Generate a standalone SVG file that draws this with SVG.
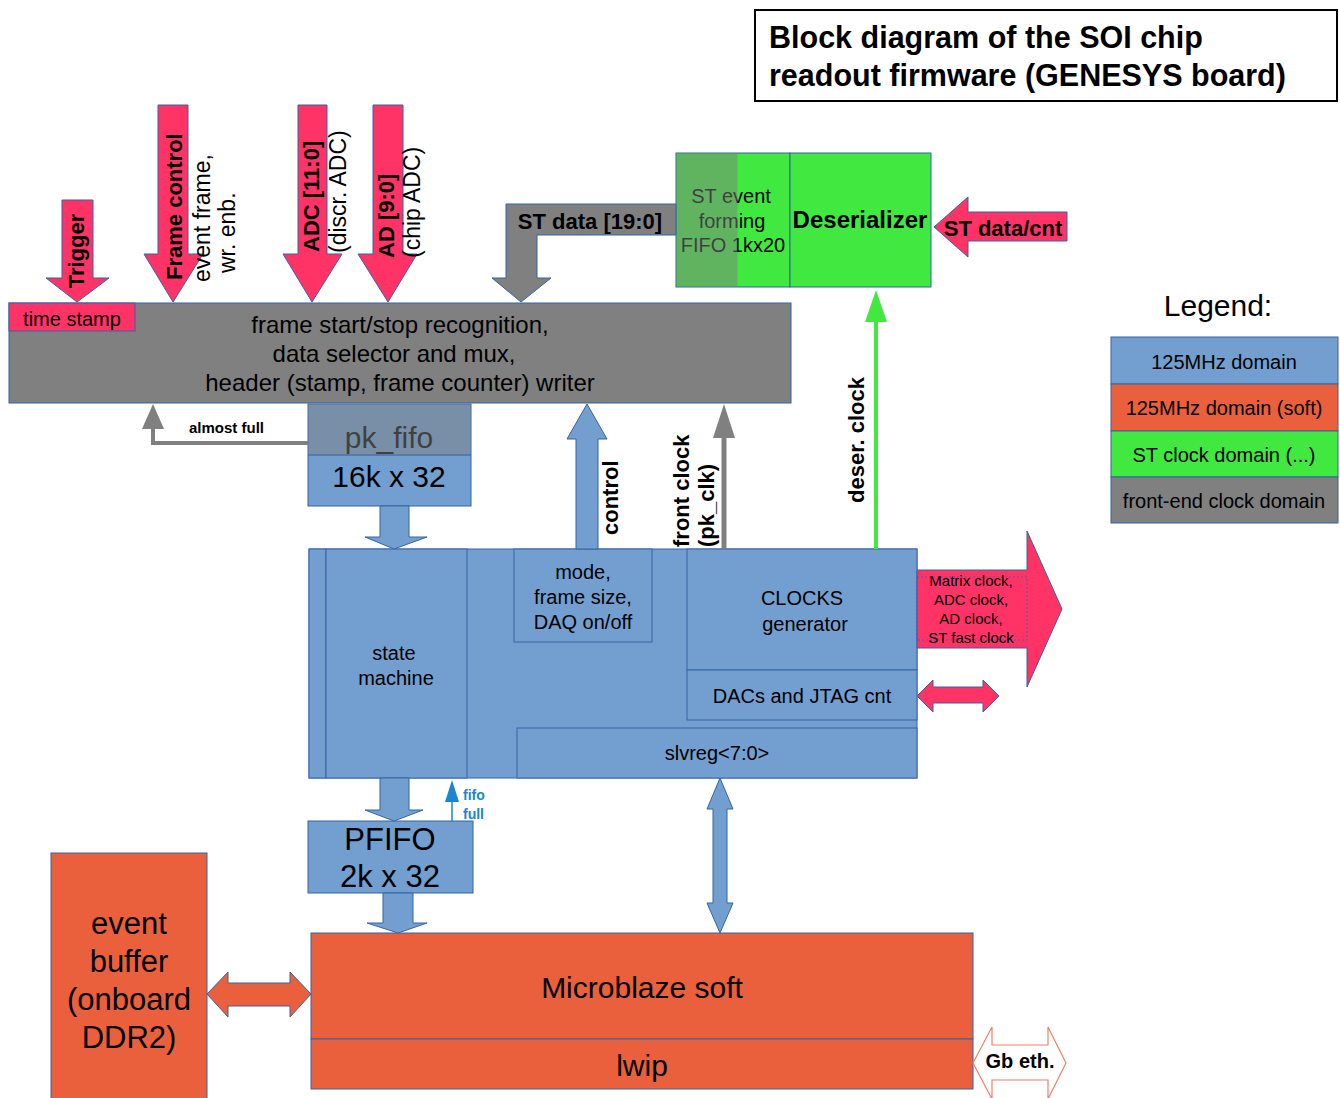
<svg xmlns="http://www.w3.org/2000/svg" width="1340" height="1098" viewBox="0 0 1340 1098">
<style>
text{font-family:"Liberation Sans",Arial,sans-serif;fill:#000}
.b{font-weight:bold}
.blue{fill:#729fcf;stroke:#3465a4;stroke-width:1}
.org{fill:#eb603c;stroke:#3465a4;stroke-width:1}
.pink{fill:#ff3366;stroke:#3465a4;stroke-width:1}
.grn{fill:#40e840;stroke:#3465a4;stroke-width:1}
.gry{fill:#808080;stroke:#3465a4;stroke-width:1}
.ov{fill:#7f7f7f;fill-opacity:0.5;stroke:none}
.m{text-anchor:middle}
.s20{font-size:20px}
.s22{font-size:22px}
.s23{font-size:23px}
.s24{font-size:24px}
.s30{font-size:30px}
.s31{font-size:31px}
</style>
<rect width="1340" height="1098" fill="#fff"/>

<g id="title">
<rect x="755" y="10" width="582" height="91" fill="#fff" stroke="#000" stroke-width="2"/>
<text x="769" y="48" class="b" font-size="30.5">Block diagram of the SOI chip</text>
<text x="769" y="86" class="b" font-size="30.5">readout firmware (GENESYS board)</text>
</g>

<g id="frame-recognition">
<rect x="9" y="303" width="782" height="100" class="gry"/>
<text x="400" y="333" class="m s24">frame start/stop recognition,</text>
<text x="394" y="362" class="m s24">data selector and mux,</text>
<text x="400" y="391" class="m s24">header (stamp, frame counter) writer</text>
</g>
<g id="time-stamp">
<rect x="9" y="303" width="126" height="28" class="pink"/>
<text x="72" y="326" class="m s20">time stamp</text>
</g>

<g id="st-fifo">
<rect x="676" y="153" width="114" height="134" class="grn"/>
<text x="731" y="203" class="m s20">ST event</text>
<text x="732" y="228" class="m s20">forming</text>
<text x="733" y="252" class="m s20">FIFO 1kx20</text>
<rect x="676.5" y="153.5" width="61" height="133" class="ov"/>
</g>
<g id="deserializer">
<rect x="790" y="153" width="141" height="134" class="grn"/>
<text x="860" y="228" class="m b s24">Deserializer</text>
</g>

<g id="pk-fifo">
<rect x="308" y="404" width="163" height="102" class="blue"/>
<text x="389" y="448" class="m s30">pk_fifo</text>
<text x="389" y="487" class="m s30">16k x 32</text>
<rect x="308.5" y="404.5" width="162" height="51" class="ov"/>
<line x1="308" y1="455" x2="471" y2="455" stroke="#3465a4" stroke-width="1"/>
</g>

<g id="control-block">
<rect x="309" y="549" width="608" height="229" class="blue"/>
<rect x="309" y="549" width="17" height="229" class="blue"/>
</g>
<g id="state-machine">
<rect x="326" y="549" width="141" height="229" class="blue"/>
<text x="394" y="660" class="m s20">state</text>
<text x="396" y="685" class="m s20">machine</text>
</g>
<g id="mode">
<rect x="514" y="549" width="138" height="93" class="blue"/>
<text x="583" y="579" class="m s20">mode,</text>
<text x="583" y="604" class="m s20">frame size,</text>
<text x="583" y="629" class="m s20">DAQ on/off</text>
</g>
<g id="clocks">
<rect x="687" y="549" width="230" height="121" class="blue"/>
<text x="802" y="605" class="m s20">CLOCKS</text>
<text x="805" y="631" class="m s20">generator</text>
</g>
<g id="dacs">
<rect x="687" y="670" width="230" height="50" class="blue"/>
<text x="802" y="703" class="m s20">DACs and JTAG cnt</text>
</g>
<g id="slvreg">
<rect x="517" y="728" width="400" height="50" class="blue"/>
<text x="717" y="760" class="m s20">slvreg&lt;7:0&gt;</text>
</g>

<g id="pfifo">
<rect x="308" y="821" width="165" height="72" class="blue"/>
<text x="390" y="850" class="m s31">PFIFO</text>
<text x="390" y="887" class="m s31">2k x 32</text>
</g>

<g id="microblaze">
<rect x="311" y="933" width="662" height="106" class="org"/>
<text x="642" y="998" class="m s30">Microblaze soft</text>
</g>
<g id="lwip">
<rect x="311" y="1039" width="662" height="50" class="org"/>
<text x="642" y="1076" class="m s30">lwip</text>
</g>

<g id="event-buffer">
<rect x="51" y="853" width="156" height="260" class="org"/>
<text x="129" y="934" class="m s31">event</text>
<text x="129" y="972" class="m s31">buffer</text>
<text x="129" y="1010" class="m s31">(onboard</text>
<text x="129" y="1048" class="m s31">DDR2)</text>
</g>

<g id="legend">
<text x="1218" y="316" class="m s30">Legend:</text>
<rect x="1111" y="337" width="227" height="47" class="blue"/>
<text x="1224" y="369" class="m s20">125MHz domain</text>
<rect x="1111" y="384" width="227" height="47" class="org"/>
<text x="1224" y="415" class="m s20">125MHz domain (soft)</text>
<rect x="1111" y="431" width="227" height="46" class="grn"/>
<text x="1224" y="462" class="m s20">ST clock domain (...)</text>
<rect x="1111" y="477" width="227" height="46" class="gry"/>
<text x="1224" y="508" class="m s20">front-end clock domain</text>
</g>

<g id="connectors">
<!-- input arrows -->
<polygon points="62,200 93,200 93,278 109,278 77,302 46,278 62,278" class="pink"/>
<text transform="translate(84,251) rotate(-90)" class="m b s22">Trigger</text>
<polygon points="158,105 188,105 188,254 203,254 173,302 144,254 158,254" class="pink"/>
<text transform="translate(182,280) rotate(-90)" class="b s22">Frame control</text>
<text transform="translate(210,282) rotate(-90)" class="s23">event frame,</text>
<text transform="translate(235,273) rotate(-90)" class="s23">wr. enb.</text>
<polygon points="298,105 327,105 327,254 342,254 312,302 283,254 298,254" class="pink"/>
<text transform="translate(319,252) rotate(-90)" class="b s22">ADC [11:0]</text>
<text transform="translate(346,253) rotate(-90)" class="s23">(discr. ADC)</text>
<polygon points="373,105 403,105 403,254 417,254 388,302 358,254 373,254" class="pink"/>
<text transform="translate(394,258) rotate(-90)" class="b s22">AD [9:0]</text>
<text transform="translate(420,258) rotate(-90)" class="s23">(chip ADC)</text>

<!-- ST data -->
<polygon points="676,204 676,235 537,235 537,278 551,278 521,302 492,278 506,278 506,204" class="gry"/>
<text x="590" y="229" class="m b s22">ST data [19:0]</text>

<!-- ST data/cnt -->
<polygon points="934,227 968,197 968,212 1067,212 1067,241 968,241 968,257" class="pink"/>
<text x="1003" y="236" class="m b s22">ST data/cnt</text>

<!-- deser clock -->
<line x1="876" y1="549" x2="876" y2="318" stroke="#40e840" stroke-width="4"/>
<polygon points="876,290 887,322 865,322" fill="#40e840"/>
<text transform="translate(864,440) rotate(-90)" class="m b s22">deser. clock</text>

<!-- front clock -->
<line x1="724" y1="549" x2="724" y2="434" stroke="#808080" stroke-width="5"/>
<polygon points="724,404 735,438 713,438" fill="#808080"/>
<text transform="translate(689,547) rotate(-90)" class="b s22">front clock</text>
<text transform="translate(714,547) rotate(-90)" class="b s22">(pk_clk)</text>

<!-- control -->
<polygon points="576,549 598,549 598,439 607,439 587,404 567,439 576,439" class="blue"/>
<text transform="translate(618,535) rotate(-90)" class="b s22">control</text>

<!-- almost full -->
<polyline points="308,443 153,443 153,426" fill="none" stroke="#808080" stroke-width="4"/>
<polygon points="153,404 164,429 142,429" fill="#808080"/>
<text x="189" y="433" class="b" font-size="15">almost full</text>

<!-- pk_fifo to state machine -->
<polygon points="380,506 409,506 409,537 427,537 394,549 365,537 380,537" class="blue"/>
<!-- to PFIFO -->
<polygon points="380,778 409,778 409,810 423,810 394,821 365,810 380,810" class="blue"/>
<!-- fifo full -->
<line x1="452" y1="821" x2="452" y2="798" stroke="#1a86d0" stroke-width="1.5"/>
<polygon points="452,780 459,802 445,802" fill="#1a86d0"/>
<text x="463" y="800" class="b" font-size="14" style="fill:#1a86d0">fifo</text>
<text x="463" y="819" class="b" font-size="14" style="fill:#1a86d0">full</text>
<!-- PFIFO to Microblaze -->
<polygon points="383,893 413,893 413,923 427,923 398,933 367,923 383,923" class="blue"/>
<!-- slvreg <-> Microblaze -->
<polygon points="720,778 733,809 727,809 727,903 733,903 720,933 707,903 713,903 713,809 707,809" class="blue"/>

<!-- clocks out -->
<polygon points="917,570 1027,570 1027,531 1062,609 1027,687 1027,648 917,648" class="pink"/>
<rect x="917" y="577" width="110" height="63" fill="none" stroke="#3465a4" stroke-width="0.8" stroke-dasharray="2,2"/>
<text x="971" y="586" class="m" font-size="15">Matrix clock,</text>
<text x="971" y="605" class="m" font-size="15">ADC clock,</text>
<text x="971" y="624" class="m" font-size="15">AD clock,</text>
<text x="971" y="643" class="m" font-size="15">ST fast clock</text>

<!-- DACs double arrow -->
<polygon points="917,696 933,680 933,687 983,687 983,680 999,696 983,712 983,703 933,703 933,712" class="pink"/>

<!-- event buffer <-> microblaze -->
<polygon points="207,994 228,972 228,983 290,983 290,972 311,994 290,1017 290,1006 228,1006 228,1017" class="org"/>

<!-- Gb eth -->
<polygon points="973,1063 992,1027 992,1045 1048,1045 1048,1027 1066,1063 1048,1099 1048,1080 992,1080 992,1099" fill="#fff" stroke="#f08068" stroke-width="1.2"/>
<text x="1020" y="1068" class="m b s20">Gb eth.</text>
</g>
</svg>
